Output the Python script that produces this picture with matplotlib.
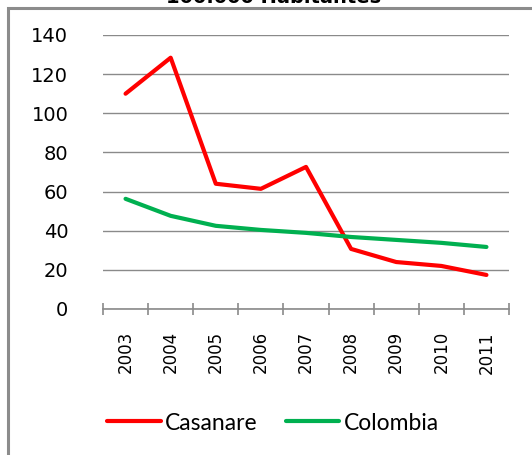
import matplotlib
matplotlib.use("Agg")
import matplotlib.pyplot as plt
from matplotlib.patches import Rectangle
import numpy as np

years = ["2003", "2004", "2005", "2006", "2007", "2008", "2009", "2010", "2011"]
casanare = [110.0, 128.4, 64.0, 61.4, 72.6, 30.7, 24.0, 22.0, 17.4]
colombia = [56.3, 47.6, 42.5, 40.4, 38.9, 36.8, 35.3, 33.8, 31.7]
yticks = [0, 20, 40, 60, 80, 100, 120, 140]
title = "100.000 Habitantes"

W, H = 532, 455
fig = plt.figure(figsize=(W / 100, H / 100), dpi=100)

# outer frame
fig.patches.append(Rectangle((8 / W, -0.1), 1.2, 1 - 8 / H + 0.1, transform=fig.transFigure,
                             fill=False, edgecolor="#8c8c8c", linewidth=2.2, zorder=0))
fig.text(274 / W, 1 - 3 / H, title, ha="center", va="baseline", fontsize=14,
         fontweight="bold", family="DejaVu Sans", color="black")

ax = fig.add_axes([103 / W, 1 - 309 / H, (509 - 103) / W, (309 - 35) / H])
x = np.arange(len(years))
ax.plot(x, casanare, color="#FF0000", linewidth=3.0, solid_capstyle="round", label="Casanare", zorder=3)
ax.plot(x, colombia, color="#00B050", linewidth=3.0, solid_capstyle="round", label="Colombia", zorder=3)

ax.set_xlim(-0.5, len(years) - 0.5)
ax.set_ylim(0, 140)
ax.set_yticks(yticks)
ax.set_yticklabels([str(v) for v in yticks], fontsize=14, family="DejaVu Sans")
ax.tick_params(axis="y", length=0, pad=25)
ax.yaxis.grid(True, color="#8a8a8a", linewidth=1.0)
ax.set_axisbelow(True)

ax.set_xticks(x)
ax.set_xticklabels(years, rotation=90, fontsize=12, family="DejaVu Sans")
ax.tick_params(axis="x", which="major", length=0, pad=16)
ax.set_xticks(np.arange(-0.5, len(years)), minor=True)
ax.tick_params(axis="x", which="minor", length=8, direction="inout", color="#8a8a8a", width=1.2)

for s in ["left", "right", "top"]:
    ax.spines[s].set_visible(False)
ax.spines["bottom"].set_color("#8a8a8a")
ax.spines["bottom"].set_linewidth(1.2)

leg = fig.legend(loc="center", bbox_to_anchor=(273 / W, 1 - 423 / H), ncol=2, frameon=False,
                 prop={"family": "Lato", "size": 16.5}, handlelength=2.35, handletextpad=0.2,
                 columnspacing=1.2)

fig.savefig("out.png", dpi=100)
